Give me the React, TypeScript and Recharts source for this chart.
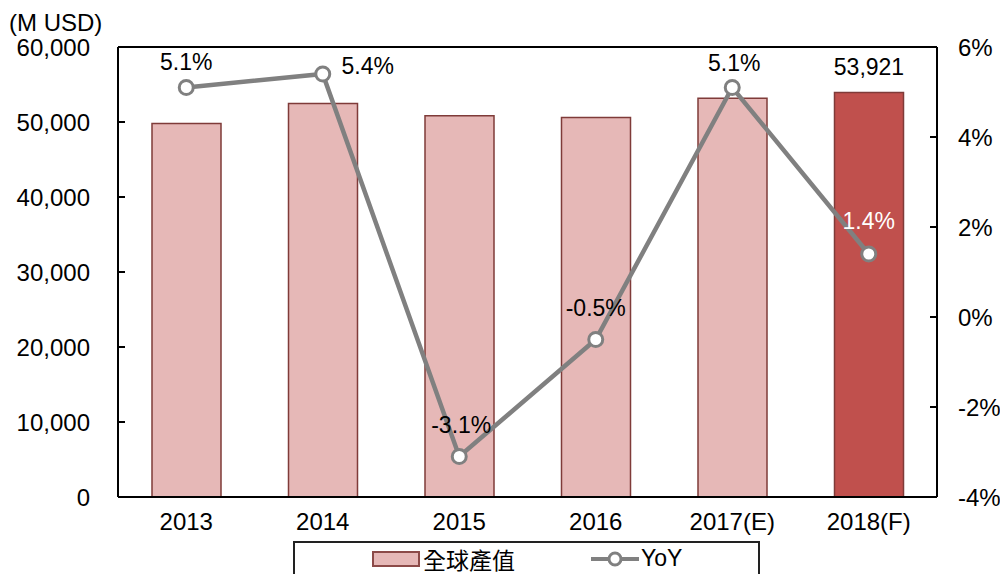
import React from 'react';
import { ComposedChart, Bar, Line, XAxis, YAxis, Cell, LabelList, Legend, ReferenceLine } from 'recharts';

const years = ['2013', '2014', '2015', '2016', '2017(E)', '2018(F)'];
const output = [49789, 52477, 50850, 50596, 53176, 53921];
const yoy = [5.1, 5.4, -3.1, -0.5, 5.1, 1.4];
const yoyLabels = ['5.1%', '5.4%', '-3.1%', '-0.5%', '5.1%', '1.4%'];
const leftTicks = [0, 10000, 20000, 30000, 40000, 50000, 60000];
const rightTicks = [-4, -2, 0, 2, 4, 6];

const data = years.map((y, i) => ({ year: y, output: output[i], yoy: yoy[i] }));

// label placement offsets (style, not data)
const labelDx = [0, 45, 2, 0, 2, 0];
const labelDy = [-26, -8, -32, -32, -25, -33];
const labelColor = ['#000', '#000', '#000', '#000', '#000', '#fff'];

const FONT = '"Liberation Sans", Arial, sans-serif';
const FS = 24;

const fmt = (v: number) => v.toLocaleString('en-US');

const YoyLabel = (props: any) => {
  const { x, y, index } = props;
  return (
    <text x={x + labelDx[index]} y={y + labelDy[index]} textAnchor="middle" dominantBaseline="central"
      fontFamily={FONT} fontSize={23} fill={labelColor[index]}>
      {yoyLabels[index]}
    </text>
  );
};

const BarTopLabel = (props: any) => {
  const { x, y, width, index, value } = props;
  if (index !== years.length - 1) return null;
  return (
    <text x={x + width / 2} y={y - 26} textAnchor="middle" dominantBaseline="central"
      fontFamily={FONT} fontSize={23} fill="#000">
      {fmt(value)}
    </text>
  );
};

const LegendBox = () => (
  <div style={{
    boxSizing: 'border-box', width: 467, height: 33, borderTop: '2px solid #222', borderLeft: '2px solid #222',
    borderRight: '2px solid #222', display: 'flex', alignItems: 'center', fontFamily: FONT, fontSize: 23, color: '#000'
  }}>
    <div style={{ marginLeft: 77, width: 44, height: 12, background: '#e6b8b7', border: '2px solid #8c4a48' }} />
    <span style={{ marginLeft: 3, fontFamily: '"Noto Sans CJK TC", sans-serif', fontSize: 23 }}>全球產值</span>
    <svg width={48} height={20} style={{ marginLeft: 76 }}>
      <line x1={0} y1={10} x2={48} y2={10} stroke="#808080" strokeWidth={4} />
      <circle cx={24} cy={10} r={6} fill="#fff" stroke="#808080" strokeWidth={3} />
    </svg>
    <span style={{ marginLeft: 2 }}>YoY</span>
  </div>
);

export default function App() {
  return (
    <div style={{ position: 'absolute', left: 0, top: 0, width: 1000, height: 574, background: '#fff', overflow: 'hidden' }}>
      <div style={{ position: 'absolute', left: 9, top: 9, fontFamily: FONT, fontSize: 24, color: '#000', zIndex: 2 }}>(M USD)</div>
      <ComposedChart width={1000} height={574} data={data} margin={{ top: 47, right: 0, bottom: 0, left: 0 }} barCategoryGap="25%">
        <XAxis dataKey="year" height={44} tickLine={false} axisLine={{ stroke: '#000', strokeWidth: 2 }} tickMargin={10}
          tick={{ fontFamily: FONT, fontSize: FS, fill: '#000' }} interval={0} />
        <YAxis yAxisId="left" width={118} domain={[0, 60000]} ticks={leftTicks} tickFormatter={fmt}
          axisLine={{ stroke: '#000', strokeWidth: 2 }} tickLine={{ stroke: '#000', strokeWidth: 2 }} tickSize={-7} tickMargin={35}
          tick={{ fontFamily: FONT, fontSize: FS, fill: '#000' }} interval={0} />
        <YAxis yAxisId="right" orientation="right" width={63} domain={[-4, 6]} ticks={rightTicks} tickFormatter={(v: number) => `${v}%`}
          axisLine={{ stroke: '#000', strokeWidth: 2 }} tickLine={{ stroke: '#000', strokeWidth: 2 }} tickSize={-7} tickMargin={28}
          tick={{ fontFamily: FONT, fontSize: FS, fill: '#000', textAnchor: 'start' }} interval={0} />
        <ReferenceLine yAxisId="left" y={60000} stroke="#000" strokeWidth={2} />
        <Bar yAxisId="left" dataKey="output" name="全球產值" isAnimationActive={false} stroke="#7f3b39" strokeWidth={1.5} barSize={69}>
          {data.map((d, i) => (
            <Cell key={d.year} fill={i === years.length - 1 ? '#c0504d' : '#e6b8b7'} />
          ))}
          <LabelList dataKey="output" content={BarTopLabel} />
        </Bar>
        <Line yAxisId="right" dataKey="yoy" name="YoY" isAnimationActive={false} stroke="#808080" strokeWidth={4.5}
          dot={{ r: 7, fill: '#fff', stroke: '#808080', strokeWidth: 3 }}>
          <LabelList dataKey="yoy" content={YoyLabel} />
        </Line>
        <Legend verticalAlign="bottom" height={33} content={LegendBox}
          wrapperStyle={{ left: 293, width: 467, bottom: 0 }} />
      </ComposedChart>
    </div>
  );
}
